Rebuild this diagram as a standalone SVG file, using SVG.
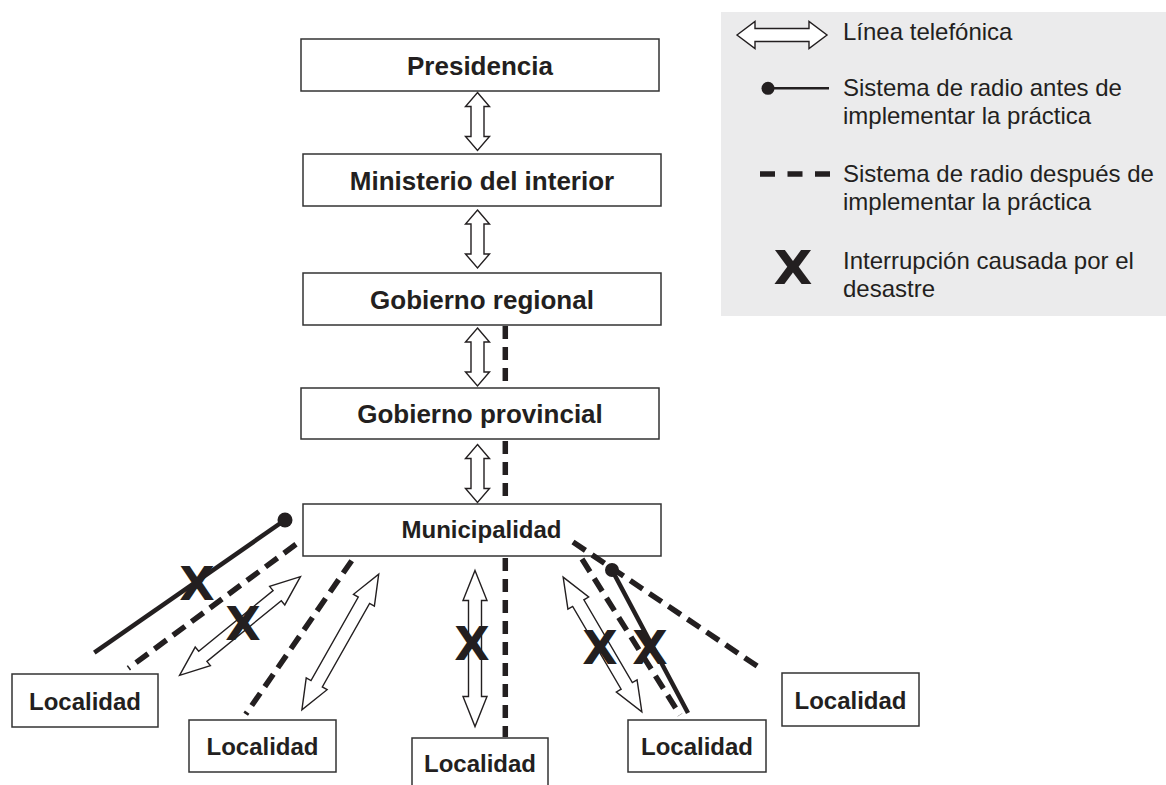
<svg xmlns="http://www.w3.org/2000/svg" xmlns:xlink="http://www.w3.org/1999/xlink" width="1166" height="785" viewBox="0 0 1166 785">
<style>
.box{fill:#fff;stroke:#333;stroke-width:1.5}
.bt{font-family:"Liberation Sans",Arial,sans-serif;font-weight:bold;fill:#231f20;text-anchor:middle}
.big{font-size:26px}
.small{font-size:24px}
.lt{font-family:"Liberation Sans",Arial,sans-serif;font-size:24px;fill:#231f20}
.arr{fill:#fff;stroke:#231f20;stroke-width:1.4;stroke-linejoin:miter}
.dash{fill:none;stroke:#231f20;stroke-width:5.5;stroke-dasharray:15 8}
.vdash{fill:none;stroke:#231f20;stroke-width:5.5;stroke-dasharray:13 8}
.solid{fill:none;stroke:#231f20;stroke-width:4.5}
.x{font-family:"DejaVu Sans",sans-serif;font-weight:bold;font-size:46px;fill:#231f20;text-anchor:middle}
</style>
<defs>
<path id="shortArrow" class="arr" d="M -29 0 L -15 -12 L -15 -6.5 L 15 -6.5 L 15 -12 L 29 0 L 15 12 L 15 6.5 L -15 6.5 L -15 12 Z"/>
<path id="longArrow" class="arr" d="M -78 0 L -48 -12 L -48 -6.5 L 48 -6.5 L 48 -12 L 78 0 L 48 12 L 48 6.5 L -48 6.5 L -48 12 Z"/>
</defs>
<rect width="1166" height="785" fill="#fff"/>

<g id="legend">
<rect x="721" y="12" width="445" height="304" fill="#ebebec"/>
<path class="arr" d="M 737 35 L 755 21.5 L 755 28.5 L 809 28.5 L 809 21.5 L 827 35 L 809 48.5 L 809 41.5 L 755 41.5 L 755 48.5 Z"/>
<text class="lt" x="843" y="39.5">Línea telefónica</text>
<circle cx="768" cy="88.3" r="6.5" fill="#231f20"/>
<line x1="768" y1="88.3" x2="829" y2="88.3" stroke="#231f20" stroke-width="2.5"/>
<text class="lt" x="843" y="96">Sistema de radio antes de</text>
<text class="lt" x="843" y="124">implementar la práctica</text>
<line x1="760" y1="174" x2="830" y2="174" stroke="#231f20" stroke-width="5.5" stroke-dasharray="15 12.5"/>
<text class="lt" x="843" y="182">Sistema de radio después de</text>
<text class="lt" x="843" y="210">implementar la práctica</text>
<text class="x" x="793" y="284.5" transform="translate(793,0) scale(1.1,1) translate(-793,0)">X</text>
<text class="lt" x="843" y="268.5">Interrupción causada por el</text>
<text class="lt" x="843" y="296.5">desastre</text>
</g>

<g id="presidencia"><rect class="box" x="301" y="39" width="358" height="52"/><text class="bt big" x="480" y="75">Presidencia</text></g>
<g id="ministerio"><rect class="box" x="303" y="154" width="358" height="52"/><text class="bt big" x="482" y="190">Ministerio del interior</text></g>
<g id="regional"><rect class="box" x="303" y="273" width="358" height="52"/><text class="bt big" x="482" y="309">Gobierno regional</text></g>
<g id="provincial"><rect class="box" x="301" y="388" width="358" height="51"/><text class="bt big" x="480" y="422.5">Gobierno provincial</text></g>
<g id="municipalidad"><rect class="box" x="303" y="504" width="358" height="52"/><text class="bt small" x="481.5" y="538">Municipalidad</text></g>
<g id="localidad1"><rect class="box" x="12" y="674" width="146" height="53"/><text class="bt small" x="85" y="710">Localidad</text></g>
<g id="localidad2"><rect class="box" x="189" y="720" width="147" height="52"/><text class="bt small" x="262.5" y="755">Localidad</text></g>
<g id="localidad3"><rect class="box" x="412" y="738" width="136" height="56"/><text class="bt small" x="480" y="772">Localidad</text></g>
<g id="localidad4"><rect class="box" x="628" y="720" width="138" height="52"/><text class="bt small" x="697" y="755">Localidad</text></g>
<g id="localidad5"><rect class="box" x="782" y="673" width="137" height="53"/><text class="bt small" x="850.5" y="708.5">Localidad</text></g>

<g id="connectors">
<use xlink:href="#shortArrow" transform="translate(477.5,121.5) rotate(90)"/>
<use xlink:href="#shortArrow" transform="translate(477.5,239) rotate(90)"/>
<use xlink:href="#shortArrow" transform="translate(477.5,357) rotate(90)"/>
<use xlink:href="#shortArrow" transform="translate(477.5,473.5) rotate(90)"/>
<line class="vdash" x1="505.3" y1="326" x2="505.3" y2="387"/>
<line class="vdash" x1="505.3" y1="441" x2="505.3" y2="503"/>
<line class="vdash" x1="505.3" y1="558" x2="505.3" y2="737"/>
<line class="solid" x1="285" y1="520" x2="94.3" y2="652.7"/>
<circle cx="285" cy="520" r="7.5" fill="#231f20"/>
<line class="dash" x1="296" y1="544.3" x2="128.3" y2="668.3"/>
<use xlink:href="#longArrow" transform="translate(240,626) rotate(-39.2)"/>
<line class="dash" x1="351.7" y1="560.7" x2="245.7" y2="714.3"/>
<use xlink:href="#longArrow" transform="translate(340.3,642) rotate(-60.5)"/>
<use xlink:href="#longArrow" transform="translate(475,648.5) rotate(90)"/>
<use xlink:href="#longArrow" transform="translate(602.5,644.5) rotate(59.7)"/>
<line class="dash" x1="573" y1="542" x2="760" y2="668"/>
<line class="dash" x1="582" y1="559" x2="680" y2="715"/>
<line class="solid" x1="612" y1="570" x2="688" y2="713"/>
<circle cx="612" cy="570" r="7" fill="#231f20"/>
</g>

<g id="interruptions">
<text class="x" x="197" y="599.5">X</text>
<text class="x" x="243" y="639.5">X</text>
<text class="x" x="472" y="659.5">X</text>
<text class="x" x="600" y="663.5">X</text>
<text class="x" x="650" y="663.5">X</text>
</g>
</svg>
